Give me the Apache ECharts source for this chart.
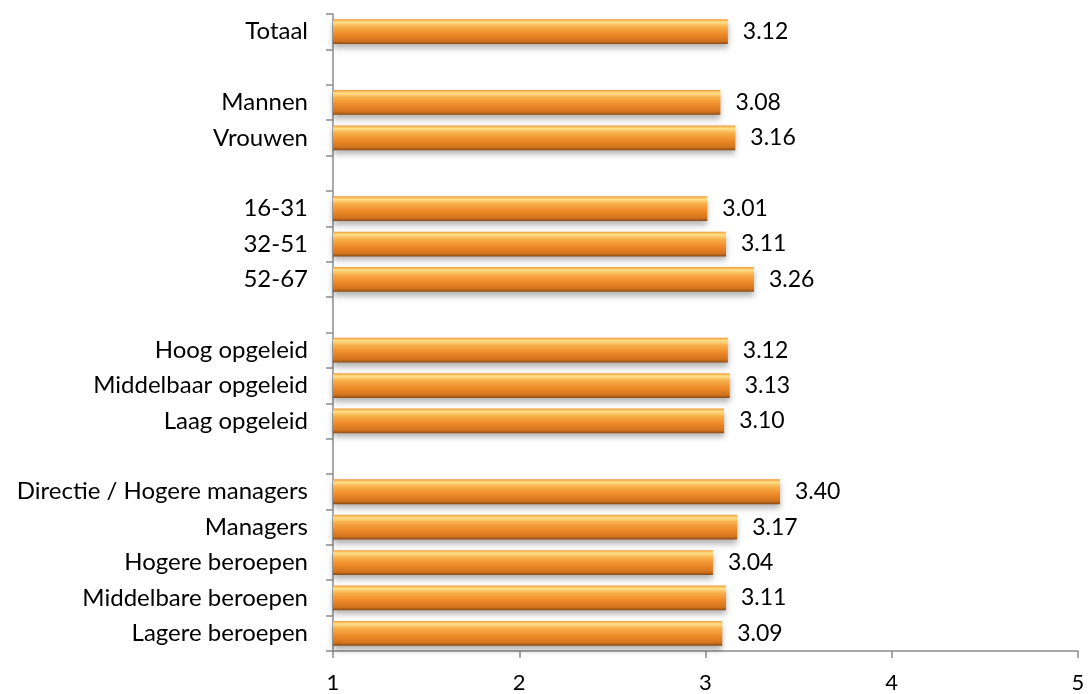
<!DOCTYPE html>
<html>
<head>
<meta charset="utf-8">
<script src="https://cdn.jsdelivr.net/npm/echarts@6/dist/echarts.min.js"></script>
<style>html,body{margin:0;padding:0;background:#fff}#c{width:1089px;height:694px}</style>
</head>
<body>
<div id="c"></div>
<script>
const categories = ['Totaal', '', 'Mannen', 'Vrouwen', '', '16-31', '32-51', '52-67', '', 'Hoog opgeleid', 'Middelbaar opgeleid', 'Laag opgeleid', '', 'Directie / Hogere managers', 'Managers', 'Hogere beroepen', 'Middelbare beroepen', 'Lagere beroepen'];
const values = [3.12, null, 3.08, 3.16, null, 3.01, 3.11, 3.26, null, 3.12, 3.13, 3.10, null, 3.40, 3.17, 3.04, 3.11, 3.09];
const xTicks = [1, 2, 3, 4, 5];

const font = 'Lato, "Open Sans", sans-serif';
const chart = echarts.init(document.getElementById('c'));
chart.setOption({
  animation: false,
  grid: { left: 333, right: 11, top: 14, bottom: 42, containLabel: false },
  xAxis: {
    type: 'value', min: xTicks[0], max: xTicks[xTicks.length - 1], interval: 1,
    splitLine: { show: false },
    axisLine: { show: true, lineStyle: { color: '#8c8c8c', width: 1.5 } },
    axisTick: { show: true, length: 7, lineStyle: { color: '#8c8c8c', width: 1.5 } },
    axisLabel: { color: '#000', fontSize: 22, fontFamily: font, margin: 21 }
  },
  yAxis: {
    type: 'category', data: categories, inverse: true,
    axisLine: { show: true, lineStyle: { color: '#8c8c8c', width: 1.5 } },
    axisTick: { show: true, length: 7, alignWithLabel: false, lineStyle: { color: '#8c8c8c', width: 1.5 } },
    axisLabel: { color: '#000', fontSize: 24, fontFamily: font, margin: 25, interval: 0 }
  },
  series: [{
    type: 'bar', data: values, barCategoryGap: '30%',
    itemStyle: {
      color: new echarts.graphic.LinearGradient(0, 0, 0, 1, [
        { offset: 0, color: '#f39a33' },
        { offset: 0.12, color: '#fde08a' },
        { offset: 0.3, color: '#f8b04a' },
        { offset: 0.6, color: '#ee8a28' },
        { offset: 0.88, color: '#d2731d' },
        { offset: 1, color: '#8a4a14' }
      ]),
      shadowColor: 'rgba(0,0,0,0.3)', shadowBlur: 6, shadowOffsetY: 4
    },
    label: {
      show: true, position: 'right', distance: 15, color: '#000', fontSize: 23, fontFamily: font,
      formatter: p => p.value == null ? '' : Number(p.value).toFixed(2)
    }
  }]
});
</script>
</body>
</html>
